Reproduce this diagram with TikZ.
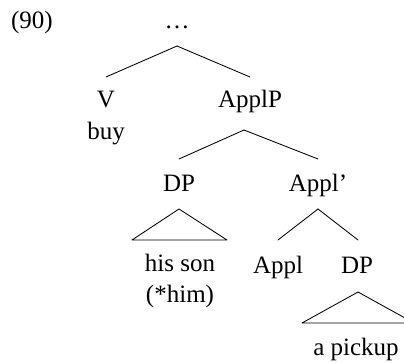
\documentclass[tikz,border=0pt]{standalone}
\usepackage{fontspec}
\setmainfont{Liberation Serif}
\begin{document}
\begin{tikzpicture}[x=1pt,y=1pt,
  lbl/.style={anchor=base,inner sep=0pt,font=\fontsize{25}{29}\selectfont},
  branch/.style={line width=0.85pt,line cap=round,line join=round}]
\useasboundingbox (0,0) rectangle (404,-363);
\clip (0,0) rectangle (404,-363);

% example number and root
\node[lbl] (num) at (32,-29) {(90)};
\node[lbl] (root) at (177,-29) {…};

% first level
\node[lbl] (v) at (106,-108) {V};
\node[lbl] (buy) at (106,-140) {buy};
\node[lbl] (applp) at (250,-108) {ApplP};

% second level
\node[lbl] (dpa) at (179,-192) {DP};
\node[lbl] (applbar) at (318,-192) {Appl’};

% third level
\node[lbl] (hisson) at (180,-272) {his son};
\node[lbl] (him) at (180,-302) {(*him)};
\node[lbl] (appl) at (278,-273) {Appl};
\node[lbl] (dpb) at (357,-273) {DP};
\node[lbl] (pickup) at (356,-355) {a pickup};

% branches
\draw[branch] ([yshift=-17pt]root.base) -- ([yshift=31pt]v.base);
\draw[branch] ([yshift=-17pt]root.base) -- ([yshift=31pt]applp.base);

\draw[branch] ([xshift=-6pt,yshift=-22pt]applp.base) -- ([yshift=33pt]dpa.base);
\draw[branch] ([xshift=-6pt,yshift=-22pt]applp.base) -- ([yshift=33pt]applbar.base);

\draw[branch] ([yshift=-17pt]dpa.base) -- ([xshift=-48pt,yshift=32pt]hisson.base)
  -- ([xshift=47pt,yshift=32pt]hisson.base) -- cycle;

\draw[branch] ([yshift=-17pt]applbar.base) -- ([yshift=33pt]appl.base);
\draw[branch] ([yshift=-17pt]applbar.base) -- ([xshift=1pt,yshift=33pt]dpb.base);

\draw[branch] ([xshift=1pt,yshift=-19pt]dpb.base) -- ([xshift=-54pt,yshift=32pt]pickup.base)
  -- ([xshift=58pt,yshift=32pt]pickup.base) -- cycle;
\end{tikzpicture}
\end{document}
